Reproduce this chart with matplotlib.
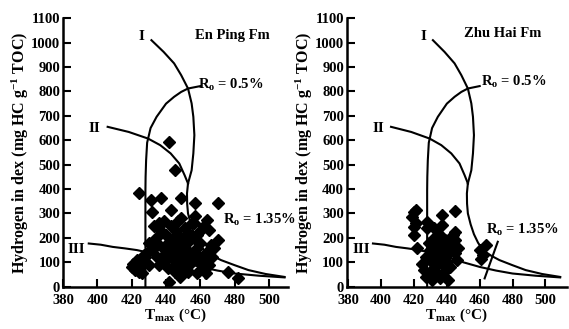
import numpy as np
import matplotlib
matplotlib.use("Agg")
import matplotlib.pyplot as plt

plt.rcParams['font.family'] = ['Liberation Serif', 'DejaVu Serif']
plt.rcParams['font.weight'] = 'bold'
plt.rcParams['mathtext.fontset'] = 'custom'
plt.rcParams['mathtext.rm'] = 'Liberation Serif:bold'
plt.rcParams['mathtext.it'] = 'Liberation Serif:bold'
plt.rcParams['mathtext.bf'] = 'Liberation Serif:bold'

# Kerogen type curves (Tmax, HI)
type1_T = [431.5, 438.6, 444.7, 448.8, 452.8, 454.9, 455.9, 456.5, 455.9, 454.9, 452.8]
type1_HI = [1010, 962, 915, 867, 812, 751, 696, 621, 546, 477, 423]
type2_T = [406, 418.3, 429.5, 436.6, 442.7, 447.7, 450.8, 452.8]
type2_HI = [655, 634, 607, 580, 546, 505, 457, 423]
lower_T = [452.8, 452.2, 452.3, 452.8, 454.5, 456.5, 459, 462, 467, 472, 480, 488, 498, 509]
lower_HI = [423, 382, 340, 300, 255, 215, 180, 150, 127, 109, 88, 68, 52, 40]
type3_T = [395, 402, 409, 416, 423, 431, 440, 450, 460, 470, 480, 494, 509]
type3_HI = [177, 172, 163, 157, 150, 138, 122, 100, 81, 66, 54, 45, 38]
ro05_T = [460, 452.8, 448.8, 444.7, 440, 434.5, 431, 429, 428.4, 428.1, 428, 428]
ro05_HI = [822, 812, 798, 778, 750, 696, 650, 590, 518, 450, 395, 0]
ro135_T = [471, 463]
ro135_HI = [184, 34]

# En Ping Fm samples
enping_T = [420, 421, 422, 423, 424, 425, 426, 427, 424, 428, 429, 426, 430, 431, 432, 432,
            433, 434, 435, 435, 436, 437, 437, 438, 438, 439, 440, 440, 441, 441, 442, 442,
            443, 443, 443, 444, 444, 445, 445, 446, 446, 447, 447, 448, 449, 449, 449, 450,
            450, 451, 451, 452, 453, 453, 454, 455, 456, 456, 457, 457, 458, 458, 459, 460,
            460, 461, 462, 463, 463, 464, 465, 466, 467, 470, 470, 476, 482, 430, 436, 440,
            445, 448, 452, 455, 458, 462, 465, 468]
enping_HI = [80, 95, 70, 110, 60, 85, 100, 130, 383, 120, 140, 55, 90, 355, 305, 150,
             250, 200, 180, 120, 90, 362, 230, 160, 100, 270, 210, 140, 180, 75, 20, 594,
             314, 250, 120, 200, 160, 478, 90, 230, 140, 270, 180, 110, 362, 280, 200, 150,
             80, 240, 120, 180, 60, 220, 140, 100, 200, 260, 342, 290, 160, 55, 120, 230,
             180, 90, 250, 140, 55, 273, 232, 170, 120, 342, 191, 61, 34, 180, 260, 110,
             60, 40, 70, 260, 210, 100, 90, 160]

# Zhu Hai Fm samples
zhuhai_T = [419, 420, 421, 420, 421, 420, 422, 425, 426, 427, 428, 428, 429, 430, 430, 431,
            431, 432, 433, 433, 434, 435, 435, 436, 437, 437, 437, 438, 438, 439, 440, 440,
            441, 441, 442, 443, 444, 445, 445, 445, 445, 446, 447, 460, 461, 462, 464, 432,
            434, 436, 427]
zhuhai_HI = [286, 305, 313, 245, 260, 211, 157, 95, 70, 120, 266, 240, 180, 150, 60, 27,
             100, 200, 130, 80, 170, 110, 45, 210, 293, 252, 150, 90, 60, 190, 130, 100,
             27, 170, 80, 150, 210, 310, 225, 190, 140, 110, 160, 150, 115, 130, 170, 240,
             55, 35, 40]

fig = plt.figure(figsize=(5.69, 3.29), dpi=100)
ax1 = fig.add_axes([0.1107, 0.1286, 0.3954, 0.816])
ax2 = fig.add_axes([0.6093, 0.1286, 0.3867, 0.816])

panels = [
    (ax1, enping_T, enping_HI, 'En Ping Fm', (380, 511), (478.9, 1030), (458.4, 826), (473, 275)),
    (ax2, zhuhai_T, zhuhai_HI, 'Zhu Hai Fm', (379, 513), (474, 1038), (461, 839), (464, 232)),
]

for ax, T, HI, name, xl, name_pos, r05_pos, r135_pos in panels:
    lw = 1.5
    ax.plot(type1_T, type1_HI, color='black', lw=lw)
    ax.plot(type2_T, type2_HI, color='black', lw=lw)
    ax.plot(lower_T, lower_HI, color='black', lw=lw)
    ax.plot(type3_T, type3_HI, color='black', lw=lw)
    ax.plot(ro05_T, ro05_HI, color='black', lw=lw)
    ax.plot(ro135_T, ro135_HI, color='black', lw=lw)
    ax.plot(T, HI, linestyle='none', marker='D', ms=6, color='black')

    ax.text(425.5, 1025, 'I', ha='center', va='center', fontsize=11, fontweight='bold')
    ax.text(398.5, 650, 'II', ha='center', va='center', fontsize=11, fontweight='bold')
    ax.text(388, 154, 'III', ha='center', va='center', fontsize=11, fontweight='bold')
    ax.text(name_pos[0], name_pos[1], name, ha='center', va='center', fontsize=10.5,
            fontweight='bold')
    ax.text(r05_pos[0], r05_pos[1], r'R$_\mathregular{o}$ = 0.5%', ha='left', va='center',
            fontsize=10.5, fontweight='bold')
    ax.text(r135_pos[0], r135_pos[1], r'R$_\mathregular{o}$ = 1.35%', ha='left', va='center',
            fontsize=10.5, fontweight='bold')

    ax.set_xlim(*xl)
    ax.set_ylim(0, 1100)
    ax.set_xticks(np.arange(380, 501, 20))
    ax.set_yticks(np.arange(0, 1101, 100))
    ax.spines['top'].set_visible(False)
    ax.spines['right'].set_visible(False)
    ax.spines['left'].set_linewidth(1.8)
    ax.spines['bottom'].set_linewidth(1.8)
    ax.tick_params(direction='in', length=6, width=1.5, labelsize=10.5, pad=2)
    ax.tick_params(axis='x', pad=5)
    for lab in ax.get_xticklabels() + ax.get_yticklabels():
        lab.set_fontweight('bold')
    ax.set_xlabel(r'T$_\mathregular{max}$ (°C)', fontsize=11, fontweight='bold', labelpad=0)
    ax.set_ylabel(r'Hydrogen in dex (mg HC g$^\mathregular{-1}$ TOC)', fontsize=11.5,
                  fontweight='bold', labelpad=0)

fig.savefig('out.png', dpi=100)
